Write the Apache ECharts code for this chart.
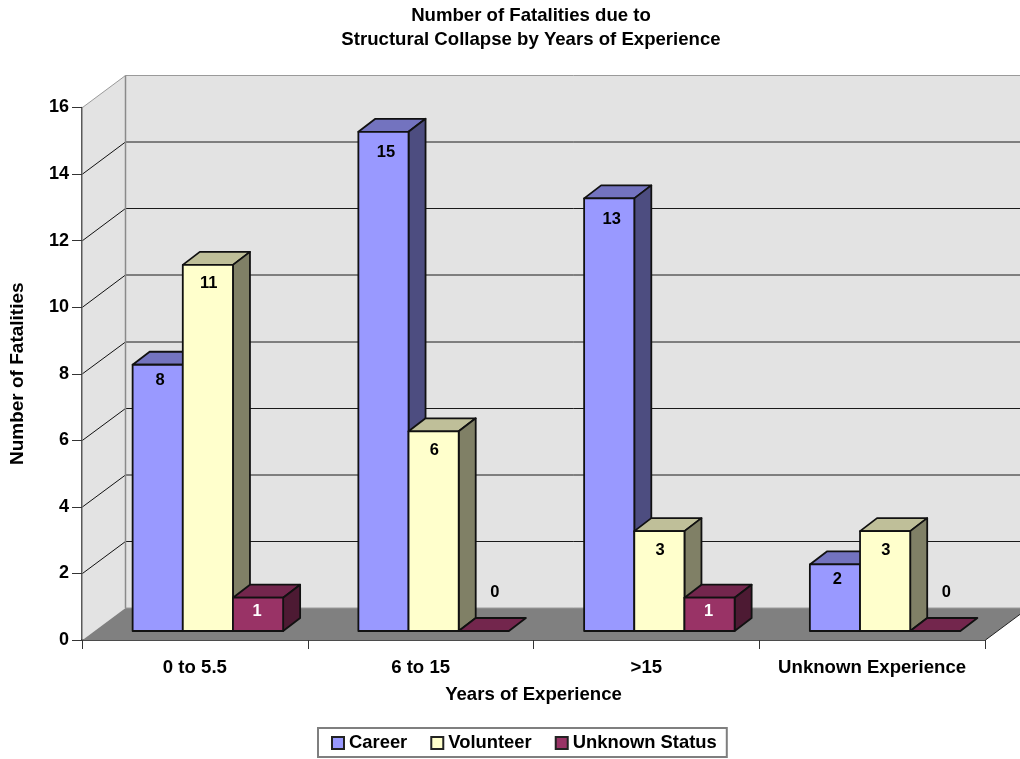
<!DOCTYPE html>
<html><head><meta charset="utf-8">
<script src="https://cdn.jsdelivr.net/npm/echarts@6/dist/echarts.min.js"></script>
<style>html,body{margin:0;padding:0;background:#fff}#c{width:1020px;height:759px}</style>
</head><body><div id="c"></div>
<script>
const categories = ['0 to 5.5', '6 to 15', '>15', 'Unknown Experience'];
const career = [8, 15, 13, 2];
const volunteer = [11, 6, 3, 3];
const unknownStatus = [1, 0, 1, 0];
const yTicks = [0, 2, 4, 6, 8, 10, 12, 14, 16];
const FONT = '"Liberation Sans", Arial, sans-serif';
const DX = 43, DY = 32;         // whole-depth shift of the 3D box
const FX = 13, FY = 9;          // front of bars from front of box
const BX = 17, BY = 13;         // bar depth
const snap = y => Math.round(y * 2) / 2;

const chart = echarts.init(document.getElementById('c'), null, {renderer: 'canvas'});

function wallItem(params, api) {
  const p0 = api.coord([0, 0]);
  const band = api.size([1, 0])[0];
  const x0 = p0[0] - band / 2 + 0.5, x1 = x0 + band * categories.length;
  const yB = p0[1], yT = api.coord([0, 16])[1];
  const ch = [];
  const poly = (pts, fill) => ch.push({type: 'polygon', shape: {points: pts}, style: {fill}});
  const line = (a, b, c, w) => ch.push({type: 'line', shape: {x1: a[0], y1: a[1], x2: b[0], y2: b[1]},
    style: {stroke: c, lineWidth: w || 1}});
  poly([[x0 + DX, yT - DY], [x1 + DX, yT - DY], [x1 + DX, yB - DY], [x0 + DX, yB - DY]], '#E3E3E3');
  poly([[x0, yT], [x0 + DX, yT - DY], [x0 + DX, yB - DY], [x0, yB]], '#E3E3E3');
  yTicks.forEach(t => {
    if (t === 0) return;
    const y = api.coord([0, t])[1];
    const yb = snap(y - DY);
    const top = t === 16;
    line([x0, y], [x0 + DX, yb], top ? '#9a9a9a' : '#111');
    line([x0 + DX, yb], [x1 + DX, yb], top ? '#9a9a9a' : '#1a1a1a', 1);
  });
  line([x0 + DX, yT - DY], [x0 + DX, yB - DY], '#8a8a8a', 1.5);
  poly([[x0, yB], [x0 + DX, yB - DY], [x1 + DX, yB - DY], [x1, yB]], '#808080');
  line([x0 + DX, yB - DY], [x1 + DX, yB - DY], '#9a9a9a', 1);
  line([x1, yB], [x1 + DX, yB - DY], '#222', 1);
  return {type: 'group', children: ch};
}

function barItem(seriesIdx, colors) {
  return function (params, api) {
    const v = api.value(1);
    const band = api.size([1, 0])[0];
    const w = band / 4.5;
    const c = api.coord([api.value(0), 0]);
    const xL = c[0] + FX + (seriesIdx - 1.5) * w;
    const xR = xL + w;
    const yB = c[1] - FY;
    const yT = api.coord([api.value(0), v])[1] - FY;
    const stroke = {stroke: '#111', lineWidth: 1.8, lineJoin: 'round'};
    const ch = [];
    ch.push({type: 'polygon', shape: {points: [[xL, yT], [xL + BX, yT - BY], [xR + BX, yT - BY], [xR, yT]]},
      style: Object.assign({fill: colors.top}, stroke)});
    if (v > 0) {
      ch.push({type: 'polygon', shape: {points: [[xR, yT], [xR + BX, yT - BY], [xR + BX, yB - BY], [xR, yB]]},
        style: Object.assign({fill: colors.side}, stroke)});
      ch.push({type: 'rect', shape: {x: xL, y: yT, width: w, height: yB - yT},
        style: Object.assign({fill: colors.front}, stroke)});
    }
    const lx = (xL + xR) / 2 + (v > 0 ? 2.5 - 1.75 * seriesIdx : 11);
    const ly = v > 0 ? yT + colors.labelDY(v) : yT - 39;
    ch.push({type: 'text', z2: 10, style: {x: lx, y: ly, text: String(v),
      fill: v > 0 ? colors.label : '#000',
      font: 'bold 16.5px ' + FONT, align: 'center', verticalAlign: 'middle'}});
    return {type: 'group', children: ch};
  };
}

function series3d(name, values, idx, colors) {
  return {
    name, type: 'custom', coordinateSystem: 'cartesian2d', clip: false, z: 3 + idx,
    encode: {x: 0, y: 1},
    itemStyle: {color: colors.front, borderColor: '#222', borderWidth: 1.5},
    renderItem: barItem(idx, colors),
    data: values.map((v, i) => [i, v])
  };
}

const blue = {front: '#9999FF', top: '#7373BF', side: '#4D4D80', label: '#000', labelDY: v => v > 10 ? 21 : 15.5};
const yellow = {front: '#FFFFCC', top: '#BFBF99', side: '#808066', label: '#000', labelDY: () => 19};
const maroon = {front: '#993366', top: '#73264D', side: '#4D1A33', label: '#fff', labelDY: () => 14};

const labelBold = {fontFamily: FONT, fontWeight: 'bold', color: '#000'};

chart.setOption({
  animation: false,
  backgroundColor: '#fff',
  title: {
    text: 'Number of Fatalities due to\nStructural Collapse by Years of Experience',
    left: 526, top: -1, textAlign: 'center',
    textStyle: Object.assign({fontSize: 18.6, lineHeight: 24}, labelBold)
  },
  grid: {left: 81, right: 35, top: 107.5, bottom: 119, containLabel: false},
  xAxis: {
    type: 'category', data: categories,
    name: 'Years of Experience', nameLocation: 'center', nameGap: 45,
    nameTextStyle: Object.assign({fontSize: 18.6}, labelBold),
    axisLine: {show: true, lineStyle: {color: '#111', width: 1.5}},
    axisTick: {show: true, length: 9, alignWithLabel: false, lineStyle: {color: '#333', width: 1}},
    axisLabel: Object.assign({fontSize: 18.6, margin: 18, interval: 0}, labelBold),
    splitLine: {show: false}
  },
  yAxis: {
    type: 'value', min: 0, max: 16, interval: 2,
    name: 'Number of Fatalities', nameLocation: 'center', nameGap: 55, nameRotate: 90,
    nameTextStyle: Object.assign({fontSize: 19}, labelBold),
    axisLine: {show: true, lineStyle: {color: '#222', width: 1.5}},
    axisTick: {show: true, length: 10, lineStyle: {color: '#333', width: 1}},
    axisLabel: Object.assign({fontSize: 18, margin: 13}, labelBold),
    splitLine: {show: false}
  },
  legend: {
    data: ['Career', 'Volunteer', 'Unknown Status'],
    left: 318, top: 728, orient: 'horizontal',
    padding: [6, 10, 5, 13], itemGap: 23, itemWidth: 12, itemHeight: 12, icon: 'rect',
    borderColor: '#7f7f7f', borderWidth: 2, backgroundColor: '#fff',
    textStyle: Object.assign({fontSize: 18.4}, labelBold),
    selectedMode: false
  },
  series: [
    {name: 'walls', type: 'custom', coordinateSystem: 'cartesian2d', clip: false, z: 1,
     encode: {x: 0, y: 1}, silent: true, renderItem: wallItem, data: [[0, 0]]},
    series3d('Career', career, 0, blue),
    series3d('Volunteer', volunteer, 1, yellow),
    series3d('Unknown Status', unknownStatus, 2, maroon)
  ]
});
</script></body></html>
